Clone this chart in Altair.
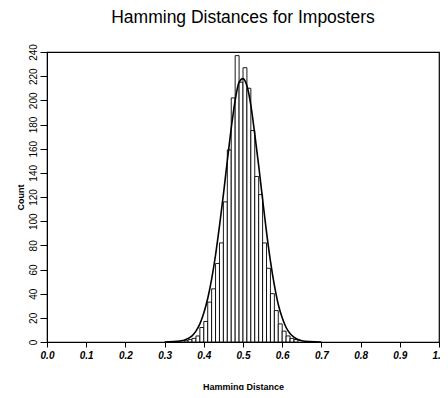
import altair as alt
import pandas as pd

# Histogram bins (lower edge of each 0.01-wide bin) and counts
bin_left = [0.35, 0.36, 0.37, 0.38, 0.39, 0.40, 0.41, 0.42, 0.43, 0.44, 0.45,
            0.46, 0.47, 0.48, 0.49, 0.50, 0.51, 0.52, 0.53, 0.54, 0.55, 0.56,
            0.57, 0.58, 0.59, 0.60, 0.61, 0.62, 0.63]
counts = [1, 2, 3, 5, 12, 17, 33, 44, 65, 82, 116,
          159, 202, 237, 215, 227, 210, 175, 137, 122, 82, 61,
          40, 26, 15, 9, 5, 3, 2]
bin_width = 0.01

# Fitted curve, points
curve_x = [0.30, 0.33, 0.35, 0.36, 0.37, 0.38, 0.39, 0.40, 0.41, 0.42, 0.43,
           0.44, 0.45, 0.46, 0.47, 0.48, 0.49, 0.50, 0.51, 0.52, 0.53, 0.54,
           0.55, 0.56, 0.57, 0.58, 0.59, 0.60, 0.61, 0.62, 0.63, 0.64, 0.65,
           0.67, 0.70]
curve_y = [0, 0.5, 1.5, 3, 5, 9, 15, 24, 36, 52, 72,
           96, 122, 150, 177, 200, 215, 218, 212, 196, 172, 146,
           118, 91, 67, 47, 31, 20, 12, 7, 4, 2, 1,
           0.3, 0]

x_ticks = [0.0, 0.1, 0.2, 0.3, 0.4, 0.5, 0.6, 0.7, 0.8, 0.9, 1.0]
y_ticks = [0, 20, 40, 60, 80, 100, 120, 140, 160, 180, 200, 220, 240]

bars = pd.DataFrame({
    "x": bin_left,
    "x2": [b + bin_width for b in bin_left],
    "count": counts,
})
curve = pd.DataFrame({"x": curve_x, "y": curve_y})

x_scale = alt.Scale(domain=[0, 1], nice=False, zero=False)
y_scale = alt.Scale(domain=[0, 240], nice=False)

x_axis = alt.Axis(values=x_ticks, format=".1f", title="Hamming Distance",
                  labelFont="Liberation Sans", labelFontSize=10,
                  labelFontWeight="bold", labelFontStyle="italic",
                  labelColor="black", tickColor="black", domainColor="black",
                  tickSize=5, labelPadding=3, labelOverlap=False,
                  labelFlush=False,
                  titleFont="Liberation Sans", titleFontSize=9,
                  titleFontWeight="bold", titleColor="black", titlePadding=22,
                  grid=False)
y_axis = alt.Axis(values=y_ticks, title="Count",
                  labelAngle=270, labelAlign="center", labelBaseline="bottom",
                  labelFont="Liberation Sans", labelFontSize=10,
                  labelColor="black", tickColor="black", domainColor="black",
                  tickSize=7, labelPadding=2, labelOverlap=False,
                  labelFlush=False,
                  titleFont="Liberation Sans", titleFontSize=9,
                  titleFontWeight="bold", titleColor="black", titlePadding=3,
                  grid=False)

hist = alt.Chart(bars).mark_rect(fill="white", stroke="black", strokeWidth=0.9).encode(
    x=alt.X("x:Q", scale=x_scale, axis=x_axis),
    x2="x2:Q",
    y=alt.Y("count:Q", scale=y_scale, axis=y_axis),
    y2=alt.value(290),
)

line = alt.Chart(curve).mark_line(color="black", strokeWidth=1.6, interpolate="monotone").encode(
    x=alt.X("x:Q", scale=x_scale, axis=x_axis),
    y=alt.Y("y:Q", scale=y_scale, axis=y_axis),
)

chart = alt.layer(hist, line).properties(
    width=392,
    height=290,
    autosize=alt.AutoSizeParams(type="none"),
    padding={"left": 39, "top": 44, "right": 1, "bottom": 48},
    title=alt.TitleParams(
        "Hamming Distances for Imposters",
        font="Liberation Sans", fontSize=17.5, fontWeight="normal",
        color="black", anchor="middle", baseline="alphabetic", offset=3,
        frame="group",
    ),
).configure(background="white").configure_view(stroke="black", strokeWidth=1.2)

chart.save("out.html", embed_options={"renderer": "svg", "actions": False})
